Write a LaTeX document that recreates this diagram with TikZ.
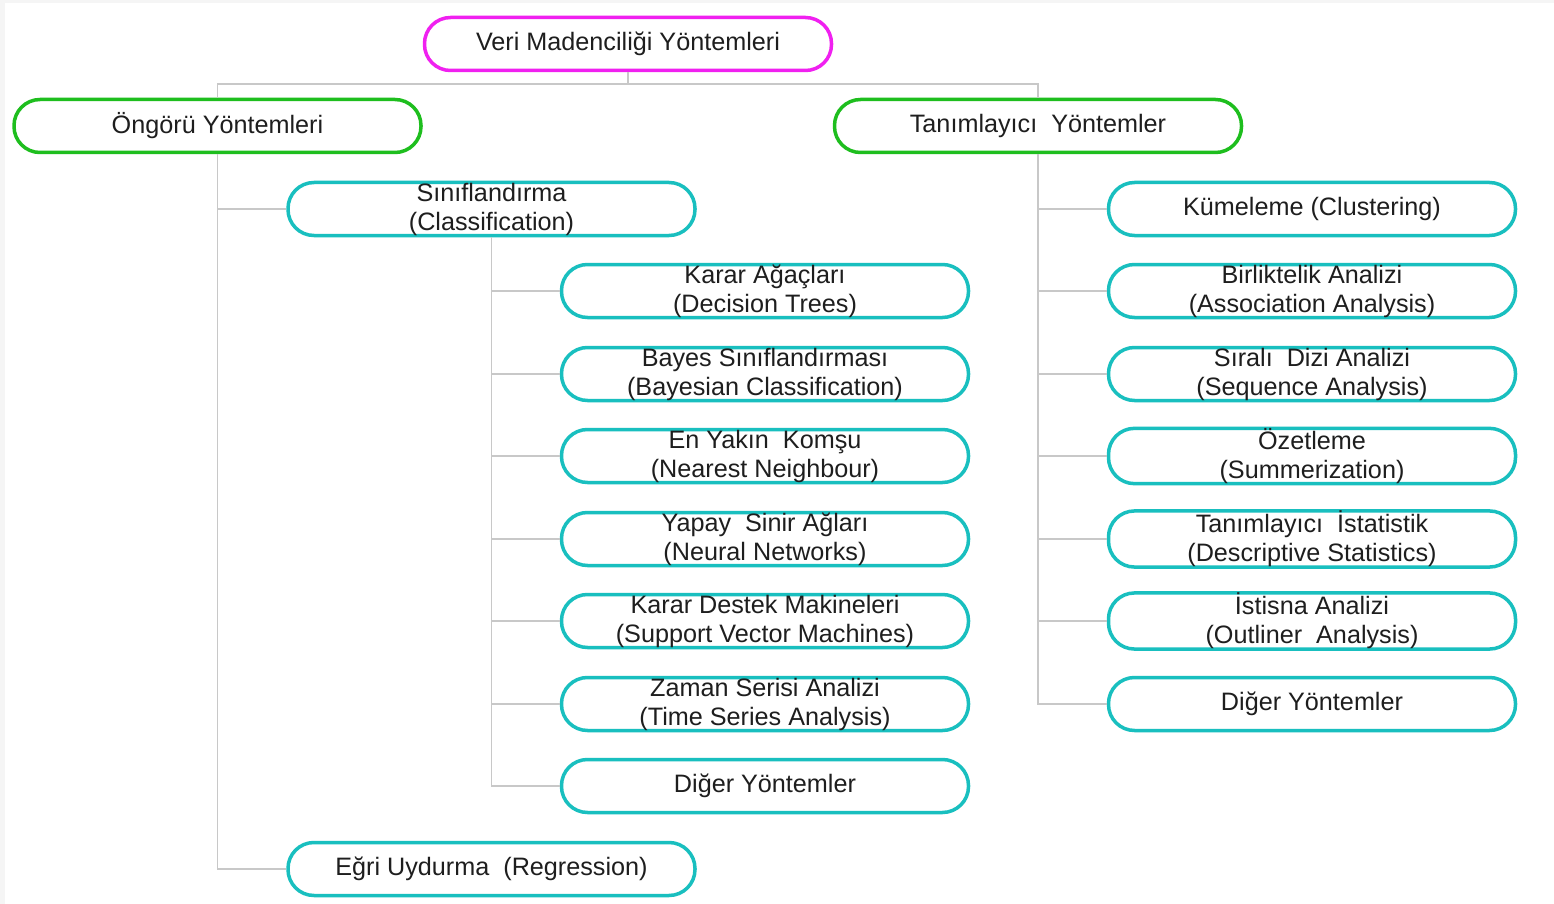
\documentclass[tikz,border=0pt]{standalone}
\usepackage{fontspec}
\setmainfont{Liberation Sans}
\definecolor{cmag}{HTML}{F020F0}
\definecolor{cgreen}{HTML}{1EBE1E}
\definecolor{ccyan}{HTML}{19BFBF}
\definecolor{ctext}{HTML}{1E1E1E}
\definecolor{cconn}{HTML}{C8C8C8}
\tikzset{
  box/.style={draw, line width=1.75pt, rounded corners=13pt, minimum width=203.5pt,
    minimum height=26.5pt, inner sep=0pt, align=center, text=ctext,
    font=\fontsize{12.6}{14.5}\selectfont},
  magbox/.style={box, draw=cmag},
  grbox/.style={box, draw=cgreen},
  cybox/.style={box, draw=ccyan},
  conn/.style={draw=cconn, line width=0.75pt},
}
\begin{document}
\begin{tikzpicture}[x=0.5pt,y=-0.5pt]
\useasboundingbox (0,0) rectangle (1554,904);
\fill[white] (0,0) rectangle (1554,904);
\fill[black!4] (0,0) rectangle (5,904);
\fill[black!4] (0,0) rectangle (1554,3);

\node[magbox] (veri) at (628,44) {Veri Madenciliği Yöntemleri};
\node[grbox] (ong) at (217.5,126) {Öngörü Yöntemleri};
\node[grbox] (tan) at (1038,126) {Tanımlayıcı\ \ Yöntemler};

\node[cybox] (sinif) at (491.5,209) {Sınıflandırma\\(Classification)};
\node[cybox] (egri) at (491.5,869) {Eğri Uydurma\ \ (Regression)};

\node[cybox] (k1) at (765,291) {Karar Ağaçları\\(Decision Trees)};
\node[cybox] (k2) at (765,374) {Bayes Sınıflandırması\\(Bayesian Classification)};
\node[cybox] (k3) at (765,456) {En Yakın\ \ Komşu\\(Nearest Neighbour)};
\node[cybox] (k4) at (765,539) {Yapay\ \ Sinir Ağları\\(Neural Networks)};
\node[cybox] (k5) at (765,621) {Karar Destek Makineleri\\(Support Vector Machines)};
\node[cybox] (k6) at (765,704) {Zaman Serisi Analizi\\(Time Series Analysis)};
\node[cybox] (k7) at (765,786) {Diğer Yöntemler};

\node[cybox] (r1) at (1312,209) {Kümeleme (Clustering)};
\node[cybox] (r2) at (1312,291) {Birliktelik Analizi\\(Association Analysis)};
\node[cybox] (r3) at (1312,374) {Sıralı\ \ Dizi Analizi\\(Sequence Analysis)};
\node[cybox] (r4) at (1312,456) {Özetleme\\(Summerization)};
\node[cybox] (r5) at (1312,539) {Tanımlayıcı\ \ İstatistik\\(Descriptive Statistics)};
\node[cybox] (r6) at (1312,621) {İstisna Analizi\\(Outliner\ \ Analysis)};
\node[cybox] (r7) at (1312,704) {Diğer Yöntemler};

\draw[conn] (veri.south) -- ++(0,12) -| (ong.north);
\draw[conn] (veri.south) -- ++(0,12) -| (tan.north);

\draw[conn] (ong.south) |- (sinif.west);
\draw[conn] (ong.south) |- (egri.west);

\foreach \n in {k1,k2,k3,k4,k5,k6,k7}
  \draw[conn] (sinif.south) |- (\n.west);
\foreach \n in {r1,r2,r3,r4,r5,r6,r7}
  \draw[conn] (tan.south) |- (\n.west);
\end{tikzpicture}
\end{document}
